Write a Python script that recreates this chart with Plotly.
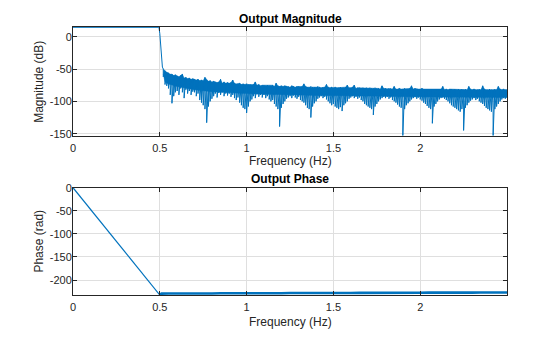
import plotly.graph_objects as go

# ---------------- data ----------------
x_tick_vals = [0, 0.5, 1, 1.5, 2]
x_tick_text = ["0", "0.5", "1", "1.5", "2"]
mag_tick_vals = [0, -50, -100, -150]
mag_tick_text = ["0", "-50", "-100", "-150"]
phase_tick_vals = [0, -50, -100, -150, -200]
phase_tick_text = ["0", "-50", "-100", "-150", "-200"]

# passband (flat, at the top of the axis) and roll-off
pass_freq_hz = [0.0, 0.495]
pass_mag_db = [14.5, 14.5]
rolloff_freq_hz = [0.5, 0.505, 0.51, 0.515]
rolloff_mag_db = [5, -15, -35, -47]

# stop band: dense ripple, upper edge and lower (spiky) edge per frequency bin
band_freq_hz = [
    0.52, 0.53, 0.54, 0.55, 0.56, 0.57, 0.58, 0.59,
    0.60, 0.61, 0.62, 0.63, 0.64, 0.65, 0.66, 0.67, 0.68, 0.69,
    0.70, 0.71, 0.72, 0.73, 0.74, 0.75, 0.76, 0.77, 0.78, 0.79,
    0.80, 0.81, 0.82, 0.83, 0.84, 0.85, 0.86, 0.87, 0.88, 0.89,
    0.90, 0.91, 0.92, 0.93, 0.94, 0.95, 0.96, 0.97, 0.98, 0.99,
    1.00, 1.01, 1.02, 1.03, 1.04, 1.05, 1.06, 1.07, 1.08, 1.09,
    1.10, 1.11, 1.12, 1.13, 1.14, 1.15, 1.16, 1.17, 1.18, 1.19,
    1.20, 1.21, 1.22, 1.23, 1.24, 1.25, 1.26, 1.27, 1.28, 1.29,
    1.30, 1.31, 1.32, 1.33, 1.34, 1.35, 1.36, 1.37, 1.38, 1.39,
    1.40, 1.41, 1.42, 1.43, 1.44, 1.45, 1.46, 1.47, 1.48, 1.49,
    1.50, 1.51, 1.52, 1.53, 1.54, 1.55, 1.56, 1.57, 1.58, 1.59,
    1.60, 1.61, 1.62, 1.63, 1.64, 1.65, 1.66, 1.67, 1.68, 1.69,
    1.70, 1.71, 1.72, 1.73, 1.74, 1.75, 1.76, 1.77, 1.78, 1.79,
    1.80, 1.81, 1.82, 1.83, 1.84, 1.85, 1.86, 1.87, 1.88, 1.89,
    1.90, 1.91, 1.92, 1.93, 1.94, 1.95, 1.96, 1.97, 1.98, 1.99,
    2.00, 2.01, 2.02, 2.03, 2.04, 2.05, 2.06, 2.07, 2.08, 2.09,
    2.10, 2.11, 2.12, 2.13, 2.14, 2.15, 2.16, 2.17, 2.18, 2.19,
    2.20, 2.21, 2.22, 2.23, 2.24, 2.25, 2.26, 2.27, 2.28, 2.29,
    2.30, 2.31, 2.32, 2.33, 2.34, 2.35, 2.36, 2.37, 2.38, 2.39,
    2.40, 2.41, 2.42, 2.43, 2.44, 2.45, 2.46, 2.47, 2.48, 2.49,
    2.50,
]
band_upper_db = [
    -50, -53, -55, -56, -58, -58, -60, -59,
    -61, -62, -60, -58, -64, -63, -65, -64, -66, -65,
    -66, -67, -66, -68, -67, -68, -63, -67, -69, -68,
    -70, -69, -70, -71, -70, -66, -72, -70, -72, -71,
    -72, -71, -67, -72, -73, -73, -72, -74, -73, -74,
    -73, -74, -74, -75, -74, -70, -75, -74, -76, -75,
    -75, -76, -75, -76, -76, -75, -77, -72, -76, -77,
    -76, -77, -76, -77, -77, -78, -76, -77, -78, -77,
    -77, -78, -77, -73, -77, -78, -78, -77, -78, -78,
    -78, -77, -78, -79, -78, -78, -74, -78, -79, -78,
    -79, -78, -79, -79, -78, -79, -79, -78, -75, -79,
    -79, -78, -75, -80, -79, -79, -80, -79, -80, -79,
    -80, -79, -80, -80, -79, -80, -80, -81, -76, -80,
    -80, -81, -80, -80, -81, -77, -81, -81, -80, -81,
    -81, -80, -81, -81, -80, -76, -81, -80, -81, -81,
    -81, -80, -81, -81, -82, -81, -81, -81, -82, -81,
    -81, -82, -81, -77, -82, -81, -82, -81, -81, -82,
    -81, -82, -81, -82, -81, -82, -81, -82, -77, -81,
    -82, -81, -82, -82, -81, -82, -76, -81, -82, -82,
    -81, -82, -82, -81, -82, -77, -81, -82, -81, -82,
    -82,
]
band_lower_db = [
    -62, -74, -76, -80, -90, -103, -92, -86,
    -84, -90, -80, -86, -95, -82, -88, -84, -90, -85,
    -86, -92, -88, -98, -102, -106, -112, -133, -108, -100,
    -96, -92, -88, -94, -87, -90, -86, -92, -88, -91,
    -88, -93, -90, -95, -98, -94, -102, -106, -110, -112,
    -118, -108, -100, -97, -92, -95, -89, -93, -90, -94,
    -90, -95, -92, -97, -100, -98, -104, -108, -112, -139,
    -110, -104, -100, -96, -94, -92, -95, -91, -94, -96,
    -93, -98, -100, -102, -106, -110, -112, -125, -108, -103,
    -100, -96, -94, -92, -95, -93, -97, -100, -103, -106,
    -104, -108, -110, -112, -109, -115, -106, -103, -100, -96,
    -94, -92, -95, -93, -96, -94, -98, -100, -104, -106,
    -108, -110, -112, -121, -108, -104, -100, -97, -95, -93,
    -95, -93, -96, -94, -98, -100, -102, -105, -108, -110,
    -153, -112, -106, -103, -100, -97, -95, -93, -96, -94,
    -97, -99, -102, -104, -107, -110, -112, -134, -108, -104,
    -100, -97, -95, -94, -96, -98, -100, -103, -106, -108,
    -110, -112, -114, -116, -112, -145, -110, -106, -102, -99,
    -97, -95, -98, -96, -100, -102, -104, -107, -110, -112,
    -114, -116, -153, -112, -108, -104, -100, -97, -95, -96,
    -94,
]
# lower edge of the solid (dense) core of the stop-band ripple
core_freq_hz = [0.52, 0.53, 0.55, 0.60, 0.70, 0.80, 0.90, 1.00, 1.10, 1.20, 1.30,
                1.40, 1.50, 1.60, 1.70, 1.80, 1.90, 2.00, 2.10, 2.20, 2.30, 2.40, 2.50]
core_lower_db = [-58, -70, -73, -77, -82, -85, -87, -88, -89, -90, -90,
                 -91, -91, -92, -92, -92, -93, -93, -93, -93, -94, -94, -94]

# phase: linear ramp through the passband, then nearly flat
phase_ramp_freq_hz = [0.0, 0.5]
phase_ramp_rad = [0.0, -232.5]
phase_flat_freq_hz = [
    0.50, 0.51, 0.55, 0.60, 0.65, 0.70, 0.75, 0.80, 0.85, 0.90, 0.95,
    1.00, 1.05, 1.10, 1.15, 1.20, 1.25, 1.30, 1.35, 1.40, 1.45,
    1.50, 1.55, 1.60, 1.65, 1.70, 1.75, 1.80, 1.85, 1.90, 1.95,
    2.00, 2.05, 2.10, 2.15, 2.20, 2.25, 2.30, 2.35, 2.40, 2.45,
    2.50,
]
phase_flat_rad = [
    -231.5, -229.5, -229.2, -229.5, -229.0, -229.3, -229.0, -229.2, -228.8, -229.0, -228.6,
    -228.9, -228.5, -228.8, -228.4, -228.7, -228.3, -228.5, -228.2, -228.4, -228.0,
    -228.3, -227.9, -228.2, -227.8, -228.0, -227.7, -227.9, -227.5, -227.8, -227.4,
    -227.7, -227.3, -227.6, -227.2, -227.5, -227.1, -227.4, -227.0, -227.3, -226.9,
    -227.2,
]

# ---------------- build traces ----------------
mag_x = list(pass_freq_hz) + list(rolloff_freq_hz)
mag_y = list(pass_mag_db) + list(rolloff_mag_db)
for f, hi, lo in zip(band_freq_hz, band_upper_db, band_lower_db):
    mag_x += [f, f]
    mag_y += [hi, lo]

core_x = list(band_freq_hz) + list(reversed(core_freq_hz))
core_y = list(band_upper_db) + list(reversed(core_lower_db))

BLUE = "#0072BD"
AX = "#262626"
FONT = "Liberation Sans, Arial, Helvetica, sans-serif"

fig = go.Figure()
fig.add_trace(go.Scatter(x=core_x, y=core_y, mode="lines", fill="toself",
                         fillcolor=BLUE, line=dict(color=BLUE, width=0.5),
                         xaxis="x", yaxis="y", showlegend=False, hoverinfo="skip"))
fig.add_trace(go.Scatter(x=mag_x, y=mag_y, mode="lines",
                         line=dict(color=BLUE, width=1),
                         xaxis="x", yaxis="y", showlegend=False, hoverinfo="skip"))
fig.add_trace(go.Scatter(x=phase_ramp_freq_hz, y=phase_ramp_rad, mode="lines",
                         line=dict(color=BLUE, width=1.2),
                         xaxis="x2", yaxis="y2", showlegend=False, hoverinfo="skip"))
fig.add_trace(go.Scatter(x=phase_flat_freq_hz, y=phase_flat_rad, mode="lines",
                         line=dict(color=BLUE, width=2.6),
                         xaxis="x2", yaxis="y2", showlegend=False, hoverinfo="skip"))

axis_common = dict(
    showline=True, linecolor=AX, linewidth=1, mirror="ticks",
    ticks="inside", ticklen=4, tickwidth=1, tickcolor=AX,
    showgrid=True, gridcolor="#dfdfdf", gridwidth=1, zeroline=False,
    tickfont=dict(size=11, color=AX, family=FONT),
)
x_extra = dict(ticklabelstandoff=2)
y_extra = dict(ticklabelstandoff=-2)

fig.update_layout(
    width=560, height=337,
    margin=dict(l=73, r=53, t=27, b=42, pad=0),
    paper_bgcolor="white", plot_bgcolor="white",
    font=dict(family=FONT, size=11, color=AX),
    xaxis=dict(domain=[0, 1], anchor="y", range=[0, 2.5],
               tickvals=x_tick_vals, ticktext=x_tick_text, **axis_common, **x_extra),
    yaxis=dict(domain=[0.594, 1], anchor="x", range=[-153.3, 15],
               tickvals=mag_tick_vals, ticktext=mag_tick_text, **axis_common, **y_extra),
    xaxis2=dict(domain=[0, 1], anchor="y2", range=[0, 2.5],
                tickvals=x_tick_vals, ticktext=x_tick_text, **axis_common, **x_extra),
    yaxis2=dict(domain=[0, 0.4004], anchor="x2", range=[-232.5, 0],
                tickvals=phase_tick_vals, ticktext=phase_tick_text, **axis_common, **y_extra),
)

def py(p):
    return (295 - p) / 268.0

def px(p):
    return (p - 73) / 434.0

annotations = [
    dict(text="<b>Output Magnitude</b>", x=0.5, y=py(18.7), font=dict(size=12, color="#000000")),
    dict(text="<b>Output Phase</b>", x=0.5, y=py(179), font=dict(size=12, color="#000000")),
    dict(text="Frequency (Hz)", x=0.5, y=py(161), font=dict(size=12, color=AX)),
    dict(text="Frequency (Hz)", x=0.5, y=py(322), font=dict(size=12, color=AX)),
    dict(text="Magnitude (dB)", x=px(39.3), y=py(81.5), textangle=-90, font=dict(size=12, color=AX)),
    dict(text="Phase (rad)", x=px(39.3), y=py(241.3), textangle=-90, font=dict(size=12, color=AX)),
]
for a in annotations:
    a.update(xref="paper", yref="paper", xanchor="center", yanchor="middle", showarrow=False)
    a["font"]["family"] = FONT
fig.update_layout(annotations=annotations)

fig.write_html("out.html")
